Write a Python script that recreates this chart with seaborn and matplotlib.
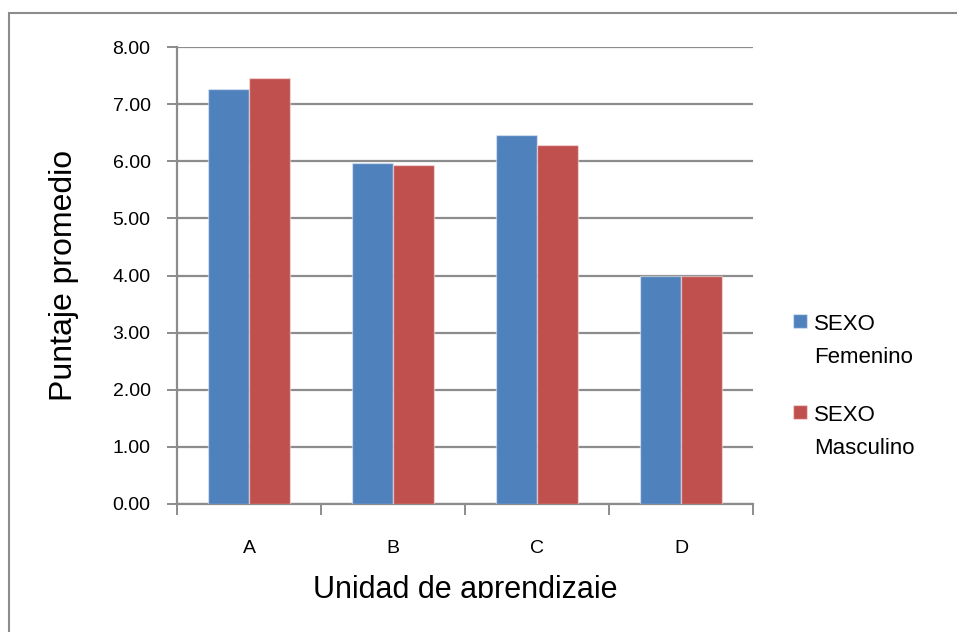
import pandas as pd
import matplotlib.pyplot as plt
import seaborn as sns
from matplotlib.patches import Rectangle
from matplotlib.offsetbox import HPacker
from matplotlib.transforms import Bbox

# datos
unidades = ['A', 'B', 'C', 'D']
femenino = [7.27, 5.97, 6.47, 4.00]
masculino = [7.47, 5.94, 6.29, 4.00]
series = ['SEXO\nFemenino', 'SEXO\nMasculino']
yticks = [0, 1, 2, 3, 4, 5, 6, 7, 8]

df = pd.DataFrame({
    'unidad': unidades * 2,
    'puntaje': femenino + masculino,
    'sexo': [series[0]] * 4 + [series[1]] * 4,
})

sns.set_style('white')
plt.rcParams['font.family'] = ['Liberation Sans', 'DejaVu Sans']
plt.rcParams['text.color'] = 'black'
plt.rcParams['axes.labelcolor'] = 'black'

fig = plt.figure(figsize=(9.57, 6.32), dpi=100)
ax = fig.add_axes([177 / 957, 1 - 503.7 / 632, (753 - 177) / 957, (503.7 - 47.3) / 632])

sns.barplot(data=df, x='unidad', y='puntaje', hue='sexo', ax=ax,
            palette=['#4F81BD', '#C0504D'], saturation=1, width=0.57,
            edgecolor=(1, 1, 1, 0.45), linewidth=1.0, zorder=3)

ax.set_xlim(-0.5, 3.5)
ax.set_ylim(0, 8)
ax.set_yticks(yticks)
ax.set_yticklabels([f'{v:.2f}' for v in yticks])
ax.yaxis.grid(True, color='#8c8c8c', linewidth=1.6, zorder=0)
ax.set_axisbelow(True)

# ejes estilo Excel
for s in ['top', 'right']:
    ax.spines[s].set_visible(False)
for s in ['left', 'bottom']:
    ax.spines[s].set_color('#8c8c8c')
    ax.spines[s].set_linewidth(1.6)

ax.tick_params(axis='y', left=True, length=7, width=1.4, color='#8c8c8c',
               labelcolor='black', pad=12, labelsize=14)
ax.set_xticks([-0.5, 0.5, 1.5, 2.5, 3.5], minor=True)
ax.tick_params(axis='x', which='minor', bottom=True, length=8, width=1.4,
               color='#8c8c8c', direction='out')
ax.tick_params(axis='x', which='major', length=0, pad=26, labelsize=14,
               labelcolor='black')

ax.set_ylabel('Puntaje promedio', fontsize=23, labelpad=24)
xl = ax.set_xlabel('Unidad de aprendizaje', fontsize=22, labelpad=13)
# la etiqueta del eje x aparece recortada en el original
xl.set_clip_box(Bbox([[0, 34], [957, 632]]))
xl.set_clip_on(True)

# leyenda a la derecha
handles, labels = ax.get_legend_handles_labels()
ax.get_legend().remove()
leg = fig.legend(handles, labels, loc='upper left',
                 bbox_to_anchor=(793 / 957, 1 - 314 / 632), frameon=False,
                 fontsize=16, handlelength=0.63, handleheight=0.58,
                 handletextpad=0.3, labelspacing=1.67, borderpad=0,
                 borderaxespad=0)
# cuadro de color alineado con la primera línea del texto
for hp in leg.findobj(HPacker):
    hp.align = 'top'
for t in leg.get_texts():
    t.set_linespacing(1.74)

# borde exterior del gráfico
fig.patches.append(Rectangle((9 / 957, -0.2), 1.5, 1.2 - 12.7 / 632,
                             transform=fig.transFigure, fill=False,
                             edgecolor='#8c8c8c', linewidth=1.5))

fig.savefig('out.png', dpi=100)
